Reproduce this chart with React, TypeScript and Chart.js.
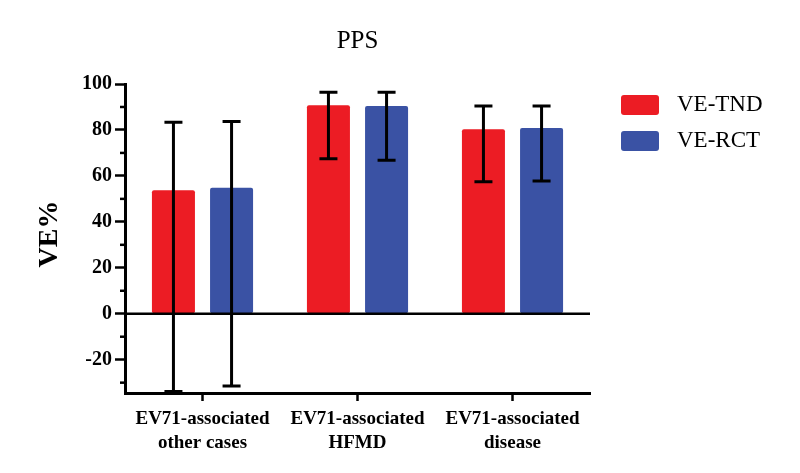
import React, { useEffect, useRef } from "react";
import { Chart, registerables } from "chart.js";

Chart.register(...registerables);

const categories: string[][] = [
  ["EV71-associated", "other cases"],
  ["EV71-associated", "HFMD"],
  ["EV71-associated", "disease"],
];
const seriesNames = ["VE-TND", "VE-RCT"];
const tndValues = [53.8, 90.7, 80.3];
const tndLow = [-33.8, 67.5, 57.4];
const tndHigh = [83.4, 96.4, 90.4];
const rctValues = [54.8, 90.4, 80.8];
const rctLow = [-31.5, 66.8, 57.8];
const rctHigh = [83.7, 96.4, 90.4];
const yTicks = [-20, 0, 20, 40, 60, 80, 100];
const yMinorTicks = [-30, -10, 10, 30, 50, 70, 90];
const chartTitle = "PPS";
const yTitle = "VE%";

const RED = "#EC1C24";
const BLUE = "#3A52A4";
const FONT = "'Liberation Serif', 'Times New Roman', serif";

const lows = [tndLow, rctLow];
const highs = [tndHigh, rctHigh];

const decorPlugin = {
  id: "decor",
  afterDatasetsDraw(chart: any) {
    const ctx = chart.ctx;
    const { left, right, top, bottom } = chart.chartArea;
    const y = chart.scales.y;
    ctx.save();
    // zero line
    ctx.strokeStyle = "#000";
    ctx.lineWidth = 2.5;
    const y0 = y.getPixelForValue(0);
    ctx.beginPath();
    ctx.moveTo(left, y0);
    ctx.lineTo(right, y0);
    ctx.stroke();
    // minor ticks
    ctx.lineWidth = 2.5;
    yMinorTicks.forEach((v) => {
      const py = y.getPixelForValue(v);
      ctx.beginPath();
      ctx.moveTo(left - 5, py);
      ctx.lineTo(left, py);
      ctx.stroke();
    });
    // error bars
    ctx.lineWidth = 3;
    const cap = 9;
    chart.data.datasets.forEach((_: any, i: number) => {
      const meta = chart.getDatasetMeta(i);
      meta.data.forEach((bar: any, j: number) => {
        const x = bar.x;
        const yl = y.getPixelForValue(lows[i][j]);
        const yh = y.getPixelForValue(highs[i][j]);
        ctx.beginPath();
        ctx.moveTo(x, yl);
        ctx.lineTo(x, yh);
        ctx.moveTo(x - cap, yl);
        ctx.lineTo(x + cap, yl);
        ctx.moveTo(x - cap, yh);
        ctx.lineTo(x + cap, yh);
        ctx.stroke();
      });
    });
    // title
    ctx.fillStyle = "#000";
    ctx.font = `25px ${FONT}`;
    ctx.textAlign = "center";
    ctx.textBaseline = "middle";
    ctx.fillText(chartTitle, (left + right) / 2, 41);
    // y title
    ctx.save();
    ctx.translate(50, 234);
    ctx.rotate(-Math.PI / 2);
    ctx.font = `bold 28px ${FONT}`;
    ctx.fillText(yTitle, 0, 0);
    ctx.restore();
    // legend
    const colors = [RED, BLUE];
    seriesNames.forEach((name, i) => {
      const ly = 95 + i * 36;
      ctx.fillStyle = colors[i];
      ctx.beginPath();
      (ctx as any).roundRect(621, ly, 38, 20, 3);
      ctx.fill();
      ctx.fillStyle = "#000";
      ctx.font = `23px ${FONT}`;
      ctx.textAlign = "left";
      ctx.textBaseline = "middle";
      ctx.fillText(name, 677, ly + 10);
    });
    ctx.restore();
  },
};

export default function App() {
  const ref = useRef<HTMLCanvasElement>(null);
  useEffect(() => {
    document.body.style.margin = "0";
    const chart = new Chart(ref.current!, {
      type: "bar",
      data: {
        labels: categories as any,
        datasets: [
          {
            label: seriesNames[0],
            data: tndValues,
            backgroundColor: RED,
            borderRadius: 2,
            borderSkipped: false,
            categoryPercentage: 0.75,
            barPercentage: 0.74,
          },
          {
            label: seriesNames[1],
            data: rctValues,
            backgroundColor: BLUE,
            borderRadius: 2,
            borderSkipped: false,
            categoryPercentage: 0.75,
            barPercentage: 0.74,
          },
        ],
      },
      options: {
        animation: false,
        responsive: false,
        devicePixelRatio: 1,
        layout: { padding: { top: 84, right: 210, left: 0, bottom: 0 } },
        plugins: {
          legend: { display: false },
          title: { display: false },
          tooltip: { enabled: false },
        },
        scales: {
          x: {
            offset: true,
            grid: {
              offset: false,
              drawOnChartArea: false,
              drawTicks: true,
              tickLength: 8,
              tickWidth: 2.5,
              color: "#000",
            },
            border: { display: true, width: 3, color: "#000" },
            ticks: {
              color: "#000",
              padding: 6,
              maxRotation: 0,
              font: { family: FONT, size: 19, weight: "bold", lineHeight: 1.26 },
            },
            afterFit(scale: any) {
              scale.height = 80;
            },
          },
          y: {
            min: -34.5,
            max: 100,
            afterBuildTicks(scale: any) {
              scale.ticks = yTicks.map((v) => ({ value: v }));
            },
            grid: {
              drawOnChartArea: false,
              drawTicks: true,
              tickLength: 10,
              tickWidth: 2.5,
              color: "#000",
            },
            border: { display: true, width: 3, color: "#000" },
            ticks: {
              color: "#000",
              padding: 3,
              font: { family: FONT, size: 20, weight: "bold" },
            },
            afterFit(scale: any) {
              scale.width = 125;
            },
          },
        },
      },
      plugins: [decorPlugin],
    });
    return () => chart.destroy();
  }, []);
  return <canvas ref={ref} width={800} height={473} style={{ display: "block" }} />;
}
